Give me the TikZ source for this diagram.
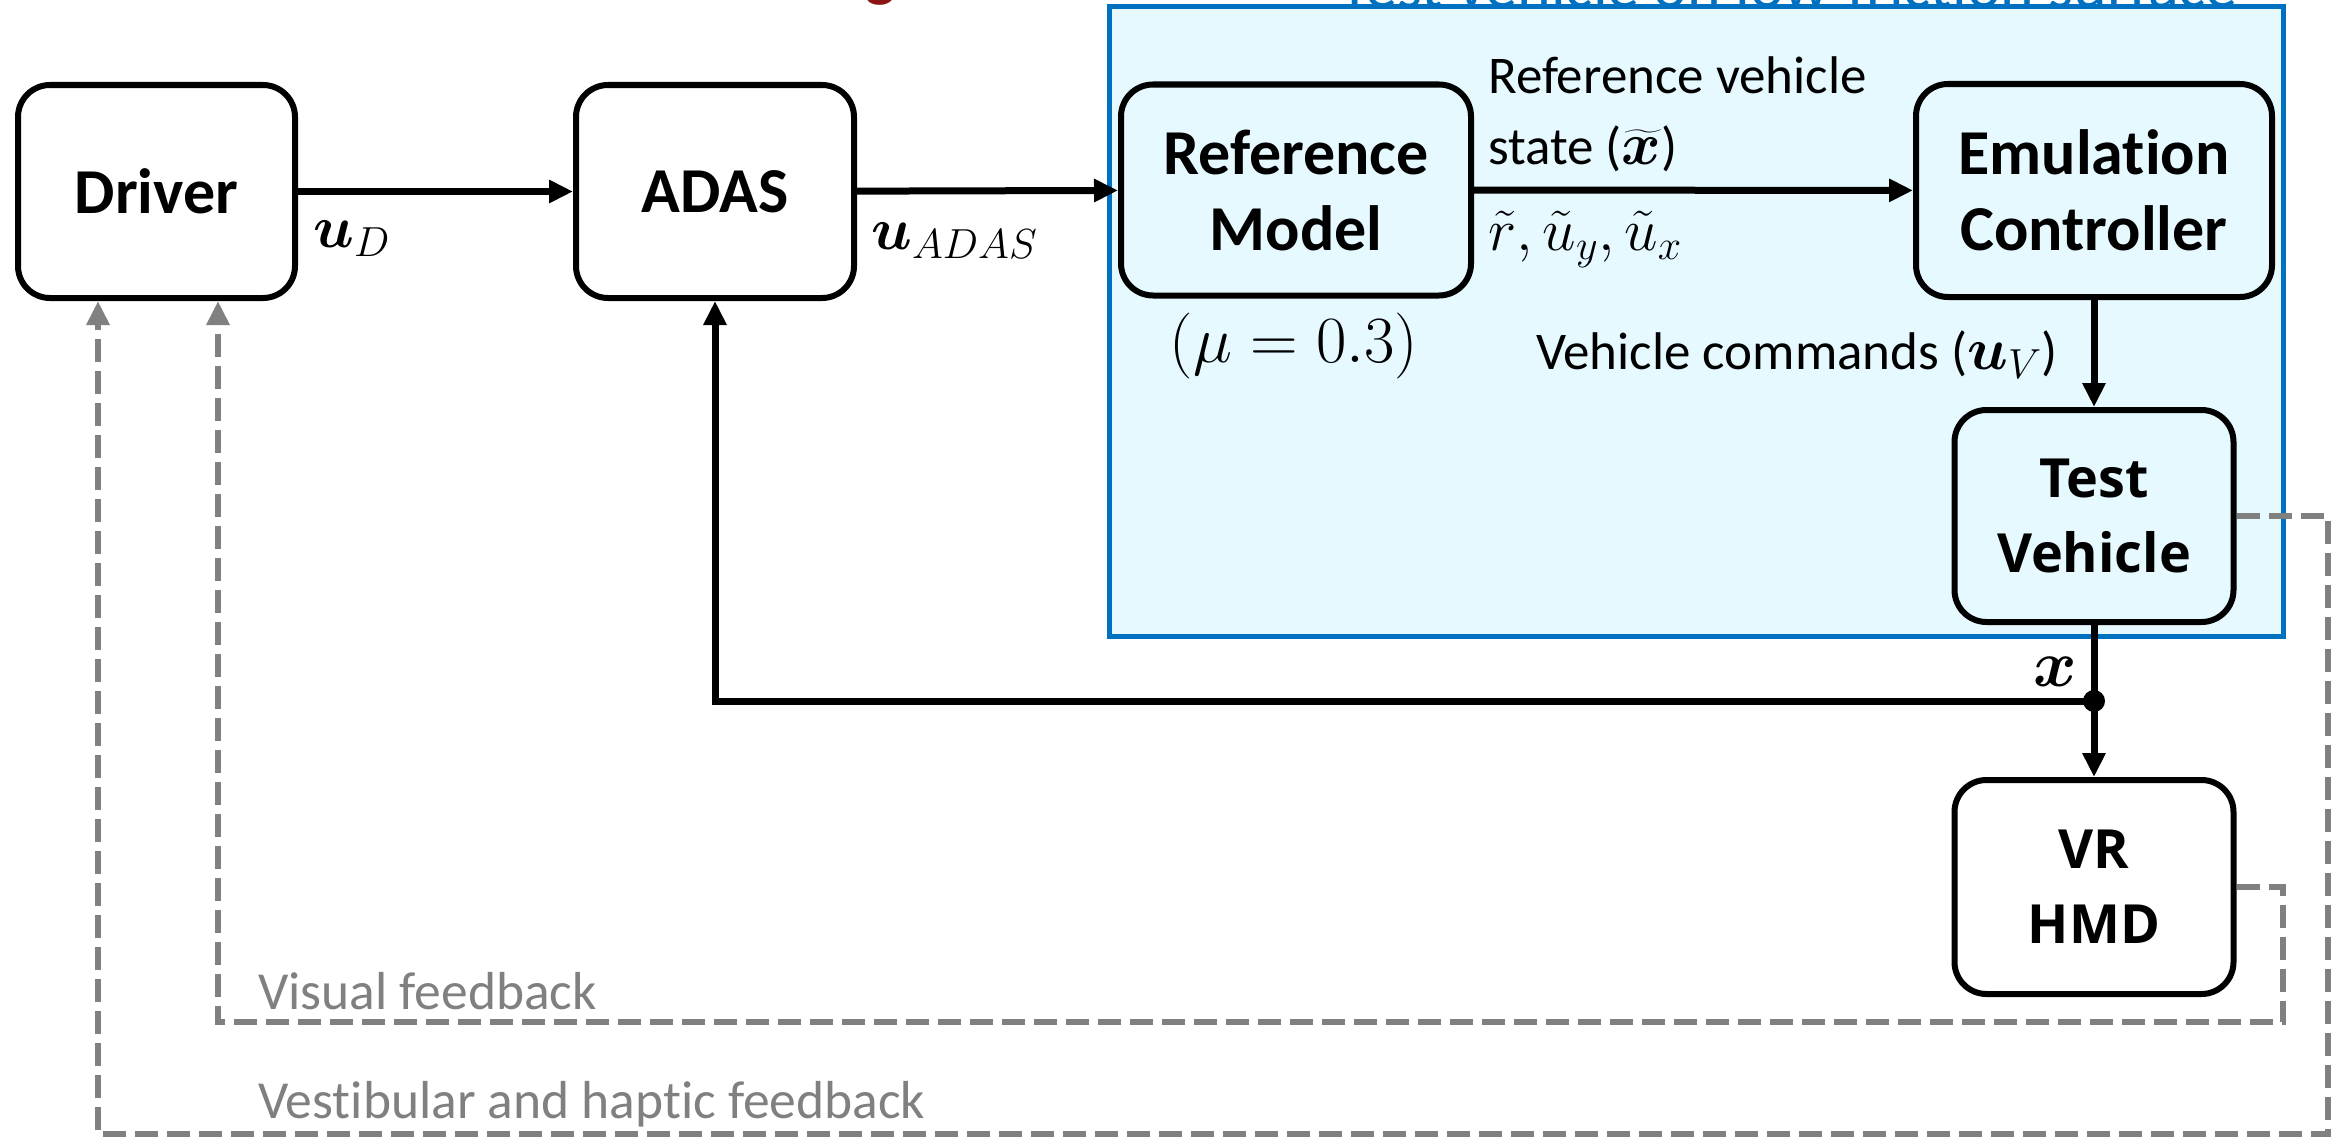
\RequirePackage{fix-cm}
\documentclass[tikz,border=0pt]{standalone}
\usepackage{amsmath,bm}
\usepackage{fontspec}
\setmainfont{Carlito}[Ligatures={TeX,NoCommon}]
\newfontfamily\opensans{Open Sans}
\usetikzlibrary{arrows.meta}
\definecolor{bgcyan}{RGB}{229,249,255}
\definecolor{frameblue}{RGB}{0,112,192}
\definecolor{fbgray}{RGB}{128,128,128}
\definecolor{titlered}{RGB}{140,20,20}
\newcommand{\mth}[1]{{\fontsize{60}{60}\selectfont$#1$}}
\tikzset{
  blockbox/.style={draw=black, line width=6pt, rounded corners=32pt, align=center,
    font=\fontsize{64}{76}\selectfont\bfseries, inner sep=0pt},
  osbox/.style={blockbox, font=\fontsize{54}{75}\selectfont\opensans\bfseries},
  lbl/.style={font=\fontsize{53}{63}\selectfont, inner sep=0pt},
  mlbl/.style={font=\fontsize{60}{70}\selectfont, inner sep=0pt},
  graylbl/.style={lbl, font=\fontsize{53.5}{63}\selectfont, text=fbgray},
  sig/.style={draw=black, line width=7pt, -{Triangle[length=24pt,width=22pt]}},
  fb/.style={draw=fbgray, line width=6.5pt, dash pattern=on 23pt off 9pt, -{Triangle[length=24pt,width=22pt]}},
}
\begin{document}
\begin{tikzpicture}[x=1pt,y=-1pt]
\clip (0,0) rectangle (2340,1140);
\useasboundingbox (0,0) rectangle (2340,1140);
% surface frame
\node[draw=frameblue, line width=5pt, fill=bgcyan, minimum width=1174pt, minimum height=629pt, inner sep=0pt] (frame) at (1696,321.5) {};
% cut-off titles
\node[text=frameblue, font=\fontsize{64}{74}\selectfont, inner sep=0pt, anchor=base east] (ftitle) at (2238,8) {Test vehicle on low-friction surface};
\node[text=titlered, font=\fontsize{64}{76}\selectfont\bfseries, inner sep=0pt, anchor=base] (mtitle) at (881,-5) {g};
% blocks
\node[blockbox, fill=white, minimum width=277pt, minimum height=213pt] (driver) at (156.5,191.5) {Driver};
\node[blockbox, fill=white, minimum width=278pt, minimum height=213pt] (adas) at (715,191.5) {ADAS};
\node[blockbox, fill=bgcyan, minimum width=350pt, minimum height=211pt] (ref) at (1296,190) {Reference\\Model};
\node[blockbox, fill=bgcyan, minimum width=356pt, minimum height=213pt] (emul) at (2094,190.5) {Emulation\\Controller};
\node[osbox, fill=bgcyan, minimum width=279pt, minimum height=212pt] (test) at (2094,516) {Test\\Vehicle};
\node[osbox, fill=white, minimum width=279pt, minimum height=214pt] (vr) at (2094,887) {VR\\HMD};
% labels
\node[mlbl, anchor=west] (luD) at (313,239) {$\bm{u}_D$};
\node[mlbl, anchor=west] (luA) at (871,241) {$\bm{u}_{ADAS}$};
\node[lbl, anchor=west] (lref1) at (1488,75) {Reference vehicle};
\node[lbl, anchor=west] (lref2) at (1488,149) {state (\mth{\widetilde{\bm{x}}})};
\node[mlbl, anchor=west] (lref3) at (1488,239) {$\tilde{r},\tilde{u}_y,\tilde{u}_x$};
\node[lbl, font=\fontsize{66}{76}\selectfont] (lmu) at (1294,346) {$(\mu=0.3)$};
\node[lbl, anchor=east] (lcmd) at (2058,355) {Vehicle commands (\mth{\bm{u}_V})};
\node[lbl, font=\fontsize{66}{76}\selectfont] (lx) at (2055,672) {$\bm{x}$};
\node[graylbl, anchor=west] (lvis) at (258,991) {Visual feedback};
\node[graylbl, anchor=west] (lves) at (258,1104) {Vestibular and haptic feedback};
% signal connectors
\draw[sig] (driver) -- (adas);
\draw[sig] (adas) -- (ref);
\draw[sig] (ref) -- (emul);
\draw[sig] (emul) -- (test);
\draw[sig] (test) -- (vr);
\coordinate (junc) at (2094,701);
\draw[sig] (junc) -| (adas.south);
\fill (junc) circle (11pt);
% feedback connectors
\coordinate (ve1) at (2328,1134);
\coordinate (ve2) at (98,1134);
\draw[fb] (test.east) -| (ve1) -- (ve2) -- (ve2 |- driver.south);
\coordinate (vi1) at (2283,1022);
\coordinate (vi2) at (218,1022);
\draw[fb] (vr.east) -| (vi1) -- (vi2) -- (vi2 |- driver.south);
\end{tikzpicture}
\end{document}
